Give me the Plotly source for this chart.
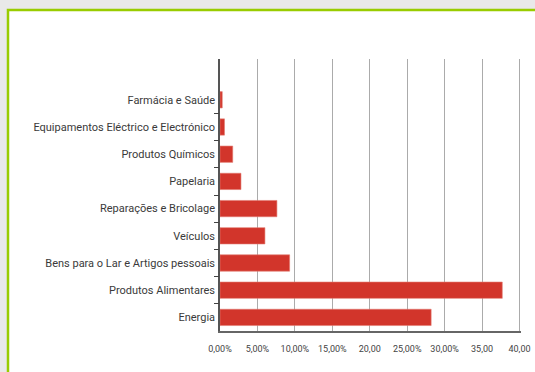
import plotly.graph_objects as go

categories = [
    "Energia",
    "Produtos Alimentares",
    "Bens para o Lar e Artigos pessoais",
    "Veículos",
    "Reparações e Bricolage",
    "Papelaria",
    "Produtos Químicos",
    "Equipamentos Eléctrico e Electrónico",
    "Farmácia e Saúde",
]
values = [28.2, 37.7, 9.3, 6.0, 7.6, 2.8, 1.7, 0.6, 0.3]

x_tickvals = [0, 5, 10, 15, 20, 25, 30, 35, 40]
x_ticktext = ["0,00%", "5,00%", "10,00%", "15,00%", "20,00", "25,00%", "30,00%", "35,00", "40,00"]

boundary_ticks = [i + 0.5 for i in range(len(categories) - 1)]

W, H = 535, 372
L, R, T, B = 220, 14, 59, 41
pw, ph = W - L - R, H - T - B

def px2paper_x(p):
    return (p - L) / pw

def px2paper_y(p):
    return (H - B - p) / ph

fig = go.Figure()
fig.add_trace(go.Bar(
    x=values,
    y=list(range(len(categories))),
    orientation="h",
    marker=dict(color="#d2352b", line=dict(color="#e27a70", width=0.6)),
    width=0.6,
    hoverinfo="skip",
))
fig.add_trace(go.Scatter(
    x=[0], y=[0], yaxis="y2", mode="markers",
    marker=dict(opacity=0), hoverinfo="skip", showlegend=False,
))

font_family = "Roboto, 'DejaVu Sans Condensed', sans-serif"

fig.update_layout(
    width=W, height=H,
    margin=dict(l=L, r=R, t=T, b=B, pad=0),
    paper_bgcolor="#e9e9e9",
    plot_bgcolor="rgba(0,0,0,0)",
    showlegend=False,
    font=dict(family=font_family, color="#3a3a3a"),
    xaxis=dict(
        range=[0, 40.2],
        tickvals=x_tickvals,
        ticktext=x_ticktext,
        showgrid=True,
        gridcolor="#ababab",
        gridwidth=1,
        zeroline=False,
        showline=True,
        linecolor="#666666",
        linewidth=1.5,
        ticks="",
        ticklabelstandoff=8,
        tickfont=dict(size=9, color="#444444"),
        automargin=False,
    ),
    yaxis=dict(
        range=[-0.5, 9.5],
        tickvals=list(range(len(categories))),
        ticktext=categories,
        showgrid=False,
        zeroline=False,
        showline=True,
        linecolor="#555555",
        linewidth=1.5,
        ticks="",
        ticklabelstandoff=1,
        tickfont=dict(size=11, color="#3a3a3a"),
        automargin=False,
    ),
    yaxis2=dict(
        overlaying="y",
        anchor="x",
        side="left",
        range=[-0.5, 9.5],
        tickvals=boundary_ticks,
        showticklabels=False,
        ticks="outside",
        ticklen=5,
        tickwidth=1.2,
        tickcolor="#444444",
        showgrid=False,
        zeroline=False,
        showline=False,
        automargin=False,
    ),
    shapes=[
        dict(
            type="rect", xref="paper", yref="paper", layer="below",
            x0=px2paper_x(8), x1=px2paper_x(560),
            y0=px2paper_y(400), y1=px2paper_y(10),
            fillcolor="#ffffff",
            line=dict(color="#99cc00", width=2.5),
        )
    ],
)

fig.write_html("out.html")
